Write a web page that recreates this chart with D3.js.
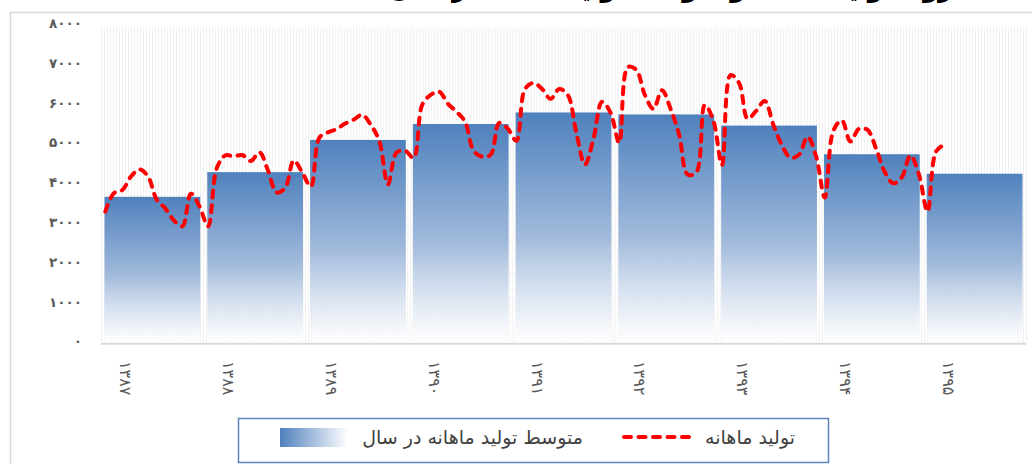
<!DOCTYPE html>
<html>
<head>
<meta charset="utf-8">
<script src="https://cdn.jsdelivr.net/npm/d3@7"></script>
<style>
  body { margin: 0; background: #fff; }
  svg { display: block; }
  text { font-family: "DejaVu Sans", sans-serif; }
</style>
</head>
<body>
<svg id="chart" width="1032" height="464"></svg>
<script>
const WIDTH = 1032;
const HEIGHT = 464;

// years (solar hijri) and their labels
const years = [1387, 1388, 1389, 1390, 1391, 1392, 1393, 1394, 1395];
const yearLabels = ["۱۳۸۷", "۱۳۸۸", "۱۳۸۹", "۱۳۹۰", "۱۳۹۱", "۱۳۹۲", "۱۳۹۳", "۱۳۹۴", "۱۳۹۵"];

// average monthly production per year (bars)
const yearAvg = [3640, 4260, 5070, 5470, 5760, 5710, 5430, 4710, 4220];

// monthly production, from farvardin 1387 to khordad 1395
const monthly = [
  3270, 3730, 3810, 4150, 4330, 4150, 3570, 3350, 3050, 2900, 3720, 3400,
  2900, 4350, 4680, 4660, 4690, 4540, 4760, 4300, 3750, 3860, 4550, 4250,
  3900, 5130, 5260, 5340, 5480, 5580, 5700, 5450, 5040, 3950, 4750, 4800,
  4620, 5950, 6200, 6280, 5980, 5780, 5530, 4800, 4650, 4700, 5500, 5350,
  5050, 6350, 6500, 6350, 6100, 6350, 6200, 5250, 4450, 5100, 6030, 5750,
  5000, 6900, 6830, 6200, 5850, 6320, 5850, 5200, 4200, 4250, 5950, 5550,
  4440, 6700, 6500, 5600, 5800, 6050, 5450, 4940, 4620, 4700, 5150, 4650,
  3620, 5300, 5560, 5030, 5350, 5320, 4850, 4270, 3980, 4130, 4680, 4200,
  3270, 4780, 4950
];

const yTicks = [0, 1000, 2000, 3000, 4000, 5000, 6000, 7000, 8000];
const monthsPerYear = 12;

const seriesBar = "متوسط تولید ماهانه در سال";
const seriesLine = "تولید ماهانه";
const title = "روند تولید ماهانه و متوسط تولید ماهانه در سال‌های ۱۳۸۷ تا ۱۳۹۵";

const faDigits = "۰۱۲۳۴۵۶۷۸۹";
const toFa = (n) => String(n).replace(/\d/g, (c) => faDigits[+c]);

const plot = { left: 101, right: 1026, top: 23.3, bottom: 341.7 };

const svg = d3.select("#chart");
const defs = svg.append("defs");

const barGrad = defs.append("linearGradient")
  .attr("id", "barGrad")
  .attr("x1", 0).attr("y1", 0).attr("x2", 0).attr("y2", 1);
barGrad.append("stop").attr("offset", "0%").attr("stop-color", "#4f81bd");
barGrad.append("stop").attr("offset", "55%").attr("stop-color", "#a3bbdc");
barGrad.append("stop").attr("offset", "100%").attr("stop-color", "#ffffff").attr("stop-opacity", 0.7);

const legendGrad = defs.append("linearGradient")
  .attr("id", "legendGrad")
  .attr("x1", 0).attr("y1", 0).attr("x2", 1).attr("y2", 0);
legendGrad.append("stop").attr("offset", "0%").attr("stop-color", "#4f81bd");
legendGrad.append("stop").attr("offset", "100%").attr("stop-color", "#ffffff");

// outer frame of the chart (runs off the right and bottom edges)
svg.append("rect")
  .attr("x", 10.5).attr("y", 12.5)
  .attr("width", WIDTH + 20).attr("height", HEIGHT + 20)
  .attr("fill", "none")
  .attr("stroke", "#d9d9d9")
  .attr("stroke-width", 1.5);

// title, cut off at the top as in the source image
svg.append("text")
  .attr("x", 567).attr("y", -3)
  .attr("text-anchor", "middle")
  .attr("font-size", 24)
  .attr("font-weight", "bold")
  .attr("fill", "#000")
  .text(title);

const x = d3.scaleBand()
  .domain(years)
  .range([plot.left, plot.right])
  .paddingInner(0.068)
  .paddingOuter(0.034);

const xMonth = d3.scaleLinear()
  .domain([-0.5, years.length * monthsPerYear - 0.5])
  .range([plot.left, plot.right]);

const y = d3.scaleLinear()
  .domain([0, 8000])
  .range([plot.bottom, plot.top]);

// dense vertical stripes in the plot background
const stripeCount = 308;
const xStripe = d3.scaleLinear().domain([0, stripeCount]).range([plot.left, plot.right]);
svg.append("g")
  .selectAll("line")
  .data(d3.range(stripeCount + 1))
  .join("line")
  .attr("x1", (d) => xStripe(d) + 0.5)
  .attr("x2", (d) => xStripe(d) + 0.5)
  .attr("y1", y(0))
  .attr("y2", y(7900))
  .attr("stroke", "#efefef")
  .attr("stroke-width", 1);

// bars
svg.append("g")
  .selectAll("rect")
  .data(years)
  .join("rect")
  .attr("x", (d) => x(d))
  .attr("y", (d, i) => y(yearAvg[i]))
  .attr("width", x.bandwidth())
  .attr("height", (d, i) => y(0) - y(yearAvg[i]))
  .attr("fill", "url(#barGrad)");

// x axis line
svg.append("line")
  .attr("x1", plot.left).attr("x2", plot.right)
  .attr("y1", y(0) + 2).attr("y2", y(0) + 2)
  .attr("stroke", "#d9d9d9")
  .attr("stroke-width", 2);

// y tick labels
svg.append("g")
  .selectAll("text")
  .data(yTicks)
  .join("text")
  .attr("x", 82)
  .attr("y", (d) => y(d))
  .attr("dy", "0.35em")
  .attr("text-anchor", "end")
  .attr("font-size", 13.5)
  .attr("font-weight", "bold")
  .attr("fill", "#595959")
  .text((d) => toFa(d));

// x labels, rotated
svg.append("g")
  .selectAll("text")
  .data(years)
  .join("text")
  .attr("transform", (d) => "translate(" + (x(d) + x.step() * 0.21) + "," + 361 + ") rotate(90)")
  .attr("dy", "0.35em")
  .attr("text-anchor", "start")
  .attr("font-size", 16)
  .attr("fill", "#595959")
  .text((d, i) => yearLabels[i]);

// monthly line
const line = d3.line()
  .x((d, i) => xMonth(i))
  .y((d) => y(d))
  .curve(d3.curveCatmullRom.alpha(0.5));

svg.append("path")
  .datum(monthly)
  .attr("d", line)
  .attr("fill", "none")
  .attr("stroke", "#ff0000")
  .attr("stroke-width", 4)
  .attr("stroke-linecap", "round")
  .attr("stroke-dasharray", "7,7.5");

// legend
const legend = svg.append("g");
legend.append("rect")
  .attr("x", 238.5).attr("y", 418.5)
  .attr("width", 590).attr("height", 44)
  .attr("fill", "#fff")
  .attr("stroke", "#5b84bb")
  .attr("stroke-width", 1.5);

legend.append("line")
  .attr("x1", 624).attr("x2", 692)
  .attr("y1", 437).attr("y2", 437)
  .attr("stroke", "#ff0000")
  .attr("stroke-width", 4)
  .attr("stroke-linecap", "round")
  .attr("stroke-dasharray", "7,7.5");

legend.append("text")
  .attr("x", 795).attr("y", 437)
  .attr("dy", "0.35em")
  .attr("text-anchor", "end")
  .attr("font-size", 19)
  .attr("fill", "#404040")
  .text(seriesLine);

legend.append("rect")
  .attr("x", 280).attr("y", 428)
  .attr("width", 68).attr("height", 19)
  .attr("fill", "url(#legendGrad)");

legend.append("text")
  .attr("x", 583).attr("y", 437)
  .attr("dy", "0.35em")
  .attr("text-anchor", "end")
  .attr("font-size", 19)
  .attr("fill", "#404040")
  .text(seriesBar);
</script>
</body>
</html>
